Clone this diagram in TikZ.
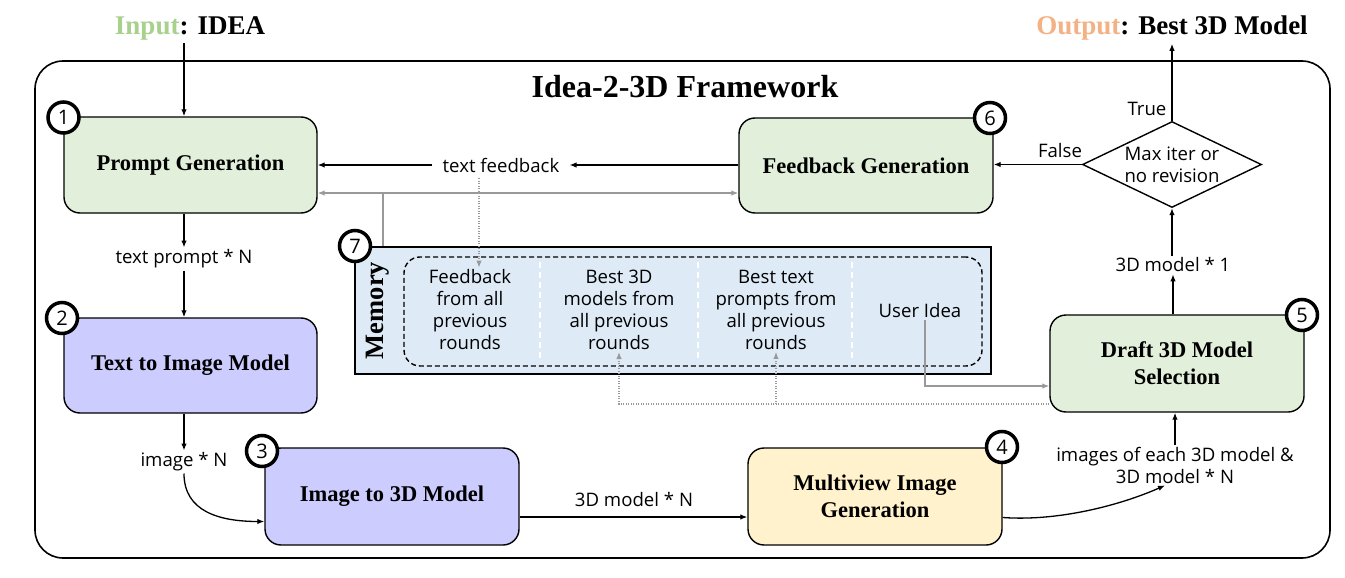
\documentclass[tikz,border=0pt]{standalone}
\usepackage{fontspec}
\setmainfont{Liberation Serif}
\newfontfamily\osans{Open Sans}
\usetikzlibrary{arrows.meta,shapes.geometric,calc}
\definecolor{gfill}{HTML}{E2EFDA}
\definecolor{pfill}{HTML}{CCCCFF}
\definecolor{yfill}{HTML}{FFF2CC}
\definecolor{bfill}{HTML}{DEEBF7}
\definecolor{ingreen}{HTML}{A9D18E}
\definecolor{outorange}{HTML}{F4B183}
\definecolor{lgray}{HTML}{999999}
\begin{document}
\begin{tikzpicture}[x=1pt,y=-1pt,
  box/.style={draw, line width=1.4pt, rounded corners=16pt, minimum width=253pt, minimum height=96pt, inner sep=0pt, align=center, font=\bfseries\fontsize{22.5}{27}\selectfont},
  lbl/.style={font=\osans\fontsize{18.6}{22}\selectfont, inner sep=2pt, align=center},
  num/.style={circle, draw, line width=3.5pt, fill=white, minimum size=31pt, inner sep=0pt, font=\osans\fontsize{20}{20}\selectfont},
  arr/.style={-{Latex[length=7pt,width=5.5pt]}, line width=1.3pt},
  garr/.style={-{Latex[length=7pt,width=5.5pt]}, line width=1.3pt, lgray},
  dotarr/.style={-{Latex[length=7pt,width=5.5pt]}, line width=1.2pt, lgray, dash pattern=on 1pt off 1.5pt},
  big/.style={font=\bfseries\fontsize{27}{30}\selectfont}
]
\fill[white] (0,0) rectangle (1345,578);
\useasboundingbox (0,0) rectangle (1345,578);

% frame
\draw[line width=1.6pt, rounded corners=28pt] (35,61) rectangle (1330,558);
\node[font=\bfseries\fontsize{32}{36}\selectfont] (title) at (685,87) {Idea-2-3D Framework};

% input / output
\node[big] (inp) at (190,28) {\textcolor{ingreen}{Input}: IDEA};
\node[big] (outp) at (1172,28) {\textcolor{outorange}{Output}: Best 3D Model};

% boxes
\node[box, fill=gfill] (prompt) at (190.5,165) {Prompt Generation};
\node[box, fill=gfill, minimum width=254pt, minimum height=95pt] (fb) at (866,165.5) {Feedback Generation};
\node[box, fill=pfill, minimum height=95pt] (t2i) at (190.5,365.5) {Text to Image Model};
\node[box, fill=pfill, minimum width=254pt, minimum height=97pt] (i3d) at (392,496.5) {Image to 3D Model};
\node[box, fill=yfill, minimum width=254pt, minimum height=97pt] (mv) at (875,496.5) {Multiview Image\\Generation};
\node[box, fill=gfill, minimum width=254pt, minimum height=97pt] (draft) at (1177,363.5) {Draft 3D Model\\Selection};

% decision
\node[diamond, draw, line width=1.4pt, minimum width=179pt, minimum height=86pt, inner sep=0pt] (dec) at (1172,164.5) {};
\node[lbl] (dect) at (1172,164.5) {Max iter or\\no revision};

% memory
\node[draw, line width=2pt, fill=bfill, minimum width=636pt, minimum height=127pt, inner sep=0pt] (mem) at (673,310.5) {};
\node[draw, line width=1.4pt, dash pattern=on 5pt off 3pt, rounded corners=16pt, minimum width=578pt, minimum height=109pt, inner sep=0pt] (memin) at (693,311.5) {};
\node[rotate=90, font=\bfseries\fontsize{26.5}{28}\selectfont] (memlbl) at (378,310.5) {Memory};
\foreach \sx in {540,698,852}
  \draw[white, line width=1.3pt, dash pattern=on 6pt off 4pt] (\sx,262) -- (\sx,362);
\node[lbl] (col1) at (470,310) {Feedback\\from all\\previous\\rounds};
\node[lbl] (col2) at (619,310) {Best 3D\\models from\\all previous\\rounds};
\node[lbl] (col3) at (776,310) {Best text\\prompts from\\all previous\\rounds};
\node[lbl] (ui) at (920,311) {User Idea};

% labels
\node[lbl, inner xsep=10pt] (tfb) at (501,165) {text feedback};
\node[lbl] (tp) at (184,259) {text prompt * N};
\node[lbl] (imN) at (184,462) {image * N};
\node[lbl] (m3N) at (634,500) {3D model * N};
\node[lbl] (imgs) at (1175,465) {images of each 3D model \&\\3D model * N};
\node[lbl] (m1) at (1173,265) {3D model * 1};
\node[lbl] (tru) at (1147,109) {True};
\node[lbl] (fls) at (1060,151) {False};

% number circles
\node[num] (c1) at (63.5,117.5) {1};
\node[num] (c2) at (62,318) {2};
\node[num] (c3) at (262,451) {3};
\node[num] (c4) at (1002,447) {4};
\node[num] (c5) at (1302,315) {5};
\node[num] (c6) at (990,118) {6};
\node[num] (c7) at (355,246) {7};

% connectors
\draw[arr] (inp.south -| tp) -- (prompt.north -| tp);
\draw[arr] (prompt.south -| tp) -- (tp.north);
\draw[arr] (tp.south) -- (t2i.north -| tp);
\draw[arr] (t2i.south -| imN) -- (imN.north);
\draw[arr] (imN.south) .. controls +(0,38) and +(-45,0) .. ([yshift=-25pt]i3d.west);
\draw[arr] ([yshift=-20.5pt]i3d.east) -- ([yshift=-20.5pt]i3d.east -| mv.west);
\draw[arr] ([yshift=-21pt]mv.east) .. controls +(55,4) and +(-45,20) .. ([xshift=-10pt]imgs.south);
\draw[arr] (imgs.north) -- (draft.south -| imgs);
\draw[arr] (draft.north -| m1) -- (m1.south);
\draw[arr] (m1.north -| dec.south) -- (dec.south);
\draw[arr] (dec.north) -- (outp.south -| dec.north);
\draw[arr] (dec.west) -- (dec.west -| fb.east);
\draw[arr] (fb.west |- tfb) -- (tfb.east);
\draw[arr] (tfb.west) -- (tfb.west -| prompt.east);

% gray connectors
\coordinate (gl) at ([yshift=-28pt]prompt.east);
\coordinate (gr) at (gl -| fb.west);
\coordinate (mj) at (383,193);
\draw[garr, {Latex[length=7pt,width=5.5pt]}-{Latex[length=7pt,width=5.5pt]}] (gl) -- (gr);
\draw[line width=1.3pt, lgray] (mj) -- (mj |- mem.north);
\coordinate (d1) at (479,178);
\draw[dotarr] (d1) -- (d1 |- col1.north);
\coordinate (dj) at ([yshift=-40.5pt]draft.west);
\draw[dotarr] (dj) -| (col2.south);
\draw[dotarr] (col3.south |- dj) -- (col3.south);
\coordinate (uj) at ([xshift=5pt]ui.south);
\draw[garr] (uj) |- ([yshift=-22.5pt]draft.west);
\end{tikzpicture}
\end{document}
